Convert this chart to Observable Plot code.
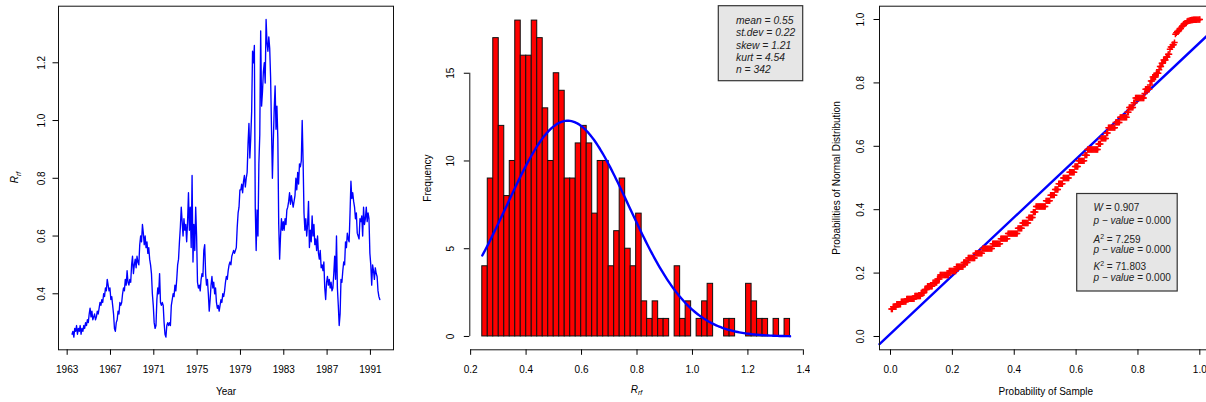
<!DOCTYPE html>
<html><head><meta charset="utf-8">
<script src="https://cdn.jsdelivr.net/npm/d3@7"></script>
<script src="https://cdn.jsdelivr.net/npm/@observablehq/plot@0.6"></script>
<style>
html,body{margin:0;padding:0;background:#fff;overflow:hidden;}
#wrap{position:relative;width:1206px;height:402px;overflow:hidden;background:#fff;}
.panel{position:absolute;top:0;height:402px;overflow:hidden;}
.panel svg{max-width:none !important;display:block;}
</style></head><body><div id="wrap"></div>
<script>
// ---------- DATA ----------
const startTime = 1963.45;           // first monthly observation
const rateMonthly = [
  0.26,0.27,0.25,0.28,0.27,0.29,0.26,
  0.28,0.27,0.29,0.26,0.28,0.27,0.29,0.28,0.30,0.29,0.31,0.30,
  0.33,0.35,0.32,0.34,0.31,0.32,0.33,0.31,0.32,0.34,0.33,0.35,
  0.37,0.36,0.38,0.37,0.40,0.39,0.42,0.41,0.45,0.43,0.41,0.42,
  0.38,0.39,0.36,0.33,0.28,0.27,0.30,0.31,0.34,0.33,0.37,0.36,
  0.37,0.40,0.42,0.41,0.45,0.43,0.48,0.44,0.43,0.45,0.44,0.50,
  0.53,0.47,0.50,0.52,0.49,0.53,0.51,0.50,0.57,0.60,0.58,0.64,
  0.61,0.57,0.60,0.56,0.58,0.54,0.56,0.52,0.50,0.47,0.40,0.36,
  0.30,0.28,0.29,0.38,0.42,0.40,0.47,0.37,0.36,0.37,0.36,0.30,
  0.26,0.25,0.29,0.30,0.29,0.30,0.29,0.36,0.38,0.40,0.39,0.43,
  0.41,0.45,0.50,0.52,0.58,0.63,0.70,0.65,0.60,0.66,0.62,0.64,
  0.58,0.65,0.75,0.62,0.70,0.56,0.81,0.51,0.64,0.55,0.70,0.60,
  0.44,0.42,0.43,0.41,0.45,0.47,0.46,0.55,0.57,0.47,0.43,0.45,
  0.40,0.34,0.38,0.43,0.46,0.42,0.44,0.40,0.42,0.37,0.35,0.36,
  0.34,0.36,0.38,0.37,0.40,0.39,0.41,0.44,0.46,0.45,0.48,0.50,
  0.51,0.50,0.53,0.54,0.55,0.54,0.55,0.56,0.63,0.68,0.70,0.76,
  0.76,0.78,0.75,0.79,0.81,0.77,0.80,0.82,0.92,0.99,0.87,0.94,
  1.03,1.24,1.20,1.26,0.70,0.55,0.69,0.60,0.85,0.95,1.31,1.05,
  1.10,1.17,1.20,1.13,1.35,1.27,1.24,1.29,1.25,1.15,0.97,0.80,
  0.93,1.04,1.12,0.97,1.05,0.94,0.64,0.52,0.60,0.66,0.62,0.65,
  0.62,0.66,0.64,0.69,0.70,0.72,0.75,0.71,0.74,0.72,0.70,0.72,
  0.74,0.80,0.76,0.82,0.78,0.85,0.84,0.86,1.00,0.86,0.68,0.62,
  0.66,0.60,0.64,0.72,0.56,0.62,0.58,0.67,0.60,0.64,0.57,0.59,
  0.55,0.60,0.54,0.52,0.55,0.49,0.50,0.48,0.51,0.42,0.38,0.44,
  0.46,0.43,0.45,0.42,0.44,0.41,0.42,0.47,0.53,0.45,0.60,0.42,
  0.36,0.29,0.33,0.45,0.44,0.48,0.51,0.50,0.58,0.56,0.61,0.59,
  0.58,0.68,0.79,0.73,0.75,0.72,0.70,0.66,0.68,0.61,0.60,0.59,
  0.66,0.65,0.67,0.60,0.70,0.64,0.66,0.70,0.65,0.68,0.66,0.54,
  0.50,0.43,0.50,0.48,0.45,0.49,0.47,0.46,0.41,0.39,0.38
];
const yearTicks = [1963, 1967, 1971, 1975, 1979, 1983, 1987, 1991];
const rateTicks = [0.4, 0.6, 0.8, 1.0, 1.2];

const histCounts = [4,9,17,12,8,10,18,16,16,18,17,13,10,15,14,9,9,11,12,11,7,10,10,4,6,9,5,4,7,2,
                    1,2,1,1,0,4,1,2,0,1,2,3,0,0,1,1,0,0,3,2,1,1,0,1,0,1];
const histRange = [0.242, 1.352];
const freqTicks = [0, 5, 10, 15];
const rTicks = [0.2, 0.4, 0.6, 0.8, 1.0, 1.2, 1.4];
const statNames = ["mean", "st.dev", "skew", "kurt", "n"];
const statValues = [0.55, 0.22, 1.21, 4.54, 342];

const ppTicks = [0, 0.2, 0.4, 0.6, 0.8, 1.0];
const ppLineX = [-0.0356, 1.04];
const ppLineY = [-0.024, 0.964];
const testNames = ["W", "A", "K"];
const testSquared = [false, true, true];
const testStats = ["0.907", "7.259", "71.803"];
const testPValues = ["0.000", "0.000", "0.000"];

// ---------- HELPERS ----------
const FONT = "'Liberation Sans', Arial, Helvetica, sans-serif";
const baseStyle = {fontFamily: FONT, fontSize: "10px", background: "white", overflow: "visible", maxWidth: "none"};
const wrap = document.getElementById("wrap");
function addPanel(left, width, chart) {
  const div = document.createElement("div");
  div.className = "panel";
  div.style.left = left + "px";
  div.style.width = width + "px";
  div.appendChild(chart);
  wrap.appendChild(div);
  return d3.select(chart.tagName.toLowerCase() === "svg" ? chart : chart.querySelector("svg"));
}
function erf(x) {
  const s = Math.sign(x); x = Math.abs(x);
  const t = 1 / (1 + 0.3275911 * x);
  const y = 1 - (((((1.061405429 * t - 1.453152027) * t) + 1.421413741) * t - 0.284496736) * t + 0.254829592) * t * Math.exp(-x * x);
  return s * y;
}
const normCdf = z => 0.5 * (1 + erf(z / Math.SQRT2));
const normPdf = z => Math.exp(-z * z / 2) / Math.sqrt(2 * Math.PI);
const mean = statValues[0], sd = statValues[1], nObs = statValues[4];
const binW = (histRange[1] - histRange[0]) / histCounts.length;

const TOP = 5.7, BOTTOM = 52.7, H = 402;

// ---------- PANEL 1: time series ----------
{
  const ml = 58, mr = 17, W = 410;
  const chart = Plot.plot({
    width: W, height: H, marginLeft: ml, marginRight: mr, marginTop: TOP, marginBottom: BOTTOM,
    x: {domain: [1962.2, 1993.13], label: null},
    y: {domain: [0.206, 1.396], label: null},
    style: baseStyle,
    marks: [
      Plot.frame({stroke: "#111", strokeWidth: 1}),
      Plot.line(rateMonthly, {x: (d, i) => startTime + i / 12, y: d => d, stroke: "#0000ff", strokeWidth: 1.35}),
      Plot.axisX(yearTicks, {tickSize: 5.5, tickPadding: 11, tickFormat: d => String(d), fontSize: 10, label: null}),
      Plot.axisY(rateTicks, {tickSize: 5.5, tickFormat: () => "", label: null}),
      Plot.text(rateTicks, {y: d => d, text: d => d.toFixed(1), frameAnchor: "left", dx: -16.8, rotate: -90, textAnchor: "middle", lineAnchor: "middle", fontSize: 10}),
      Plot.text(["Year"], {frameAnchor: "bottom", dy: 42, lineAnchor: "middle", fontSize: 10})
    ]
  });
  const svg = addPanel(0, W, chart);
  const t = svg.append("text").attr("transform", `translate(${ml - 43},${(TOP + H - BOTTOM) / 2}) rotate(-90)`)
    .attr("text-anchor", "middle").attr("font-family", FONT).attr("font-size", 10).attr("fill", "black").attr("dy", "0.32em");
  t.append("tspan").attr("font-style", "italic").text("R");
  t.append("tspan").attr("font-style", "italic").attr("font-size", 7).attr("dy", 2.5).text("rf");
}

// ---------- PANEL 2: histogram ----------
{
  const left = 410, W = 400, ml = 59.3, mr = 6.3;
  const xDom = [0.197, 1.403], yDom = [-0.76, 18.82];
  const bins = histCounts.map((c, i) => ({x1: histRange[0] + i * binW, x2: histRange[0] + (i + 1) * binW, c}));
  const curve = d3.range(0, 201).map(k => {
    const x = histRange[0] + k * (histRange[1] - histRange[0]) / 200;
    return {x, y: nObs * binW * normPdf((x - mean) / sd) / sd};
  });
  const chart = Plot.plot({
    width: W, height: H, marginLeft: ml, marginRight: mr, marginTop: TOP, marginBottom: BOTTOM,
    x: {domain: xDom, label: null},
    y: {domain: yDom, label: null},
    style: baseStyle,
    marks: [
      Plot.rect(bins, {x1: "x1", x2: "x2", y1: () => 0, y2: "c", fill: "#ff0000", stroke: "#111", strokeWidth: 1}),
      Plot.line(curve, {x: "x", y: "y", stroke: "#0000ff", strokeWidth: 2.4}),
      Plot.ruleX([xDom[0]], {y1: freqTicks[0], y2: freqTicks[freqTicks.length - 1], stroke: "#111"}),
      Plot.ruleY([yDom[0]], {x1: rTicks[0], x2: rTicks[rTicks.length - 1], stroke: "#111"}),
      Plot.axisX(rTicks, {tickSize: 5.5, tickPadding: 11, tickFormat: d => d.toFixed(1), fontSize: 10, label: null}),
      Plot.axisY(freqTicks, {tickSize: 5.5, tickFormat: () => "", label: null}),
      Plot.text(freqTicks, {y: d => d, text: d => String(d), frameAnchor: "left", dx: -19.3, rotate: -90, textAnchor: "middle", lineAnchor: "middle", fontSize: 10}),
      Plot.text(["Frequency"], {frameAnchor: "left", dx: -42.3, rotate: -90, textAnchor: "middle", lineAnchor: "middle", fontSize: 10})
    ]
  });
  const svg = addPanel(left, W, chart);
  const t = svg.append("text").attr("x", (ml + W - mr) / 2).attr("y", 392.5)
    .attr("text-anchor", "middle").attr("font-family", FONT).attr("font-size", 10).attr("fill", "black");
  t.append("tspan").attr("font-style", "italic").text("R");
  t.append("tspan").attr("font-style", "italic").attr("font-size", 7).attr("dy", 2.5).text("rf");
  // stats box
  const bx = 718.3 - left, by = TOP, bw = 84.4, bh = 75;
  svg.append("rect").attr("x", bx).attr("y", by).attr("width", bw).attr("height", bh)
    .attr("fill", "#e6e6e6").attr("stroke", "#333").attr("stroke-width", 1.2);
  const g = svg.append("g").attr("font-family", FONT).attr("font-size", 10.3).attr("font-style", "italic")
    .attr("fill", "#222").attr("text-anchor", "start");
  statNames.forEach((nm, i) => {
    const v = nm === "n" ? String(statValues[i]) : statValues[i].toFixed(2);
    g.append("text").attr("x", 736 - left).attr("y", 24 + i * 12.35).attr("text-anchor", "start").text(`${nm} = ${v}`);
  });
}

// ---------- PANEL 3: P-P plot ----------
{
  const left = 810, W = 402, ml = 69, mr = 0.3;
  const xDom = [-0.0356, 1.04], yDom = [-0.042, 1.042];
  // sample probabilities vs. normal probabilities of the sorted monthly observations
  const sorted = [...rateMonthly].sort(d3.ascending);
  const pp = sorted.map((v, i) => ({x: (i + 1) / sorted.length, y: normCdf((v - mean) / sd)}));
  const line = ppLineX.map((x, i) => ({x, y: ppLineY[i]}));
  const chart = Plot.plot({
    width: W, height: H, marginLeft: ml, marginRight: mr, marginTop: TOP, marginBottom: BOTTOM,
    x: {domain: xDom, label: null},
    y: {domain: yDom, label: null},
    style: baseStyle,
    marks: [
      Plot.line(line, {x: "x", y: "y", stroke: "#0000ff", strokeWidth: 2.4}),
      Plot.dot(pp, {x: "x", y: "y", symbol: "plus", stroke: "#ff0000", r: 2.2, strokeWidth: 1.5}),
      Plot.frame({stroke: "#111", strokeWidth: 1}),
      Plot.axisX(ppTicks, {tickSize: 5.5, tickPadding: 11, tickFormat: d => d.toFixed(1), fontSize: 10, label: null}),
      Plot.axisY(ppTicks, {tickSize: 5.5, tickFormat: () => "", label: null}),
      Plot.text(ppTicks, {y: d => d, text: d => d.toFixed(1), frameAnchor: "left", dx: -19, rotate: -90, textAnchor: "middle", lineAnchor: "middle", fontSize: 10}),
      Plot.text(["Probabilities of Normal Distribution"], {frameAnchor: "left", dx: -43, rotate: -90, textAnchor: "middle", lineAnchor: "middle", fontSize: 10}),
      Plot.text(["Probability of Sample"], {frameAnchor: "bottom", dy: 42, lineAnchor: "middle", fontSize: 10})
    ]
  });
  const svg = addPanel(left, 396, chart);
  const bx = 1076.7 - left, by = 193.5, bw = 100.5, bh = 97.5;
  svg.append("rect").attr("x", bx).attr("y", by).attr("width", bw).attr("height", bh)
    .attr("fill", "#e6e6e6").attr("stroke", "#333").attr("stroke-width", 1.2);
  const g = svg.append("g").attr("font-family", FONT).attr("font-size", 10).attr("fill", "#222").attr("text-anchor", "start");
  const tx = 1093.5 - left;
  const statY = [211, 242.5, 269.5], pY = [224, 253, 280.5];
  testNames.forEach((nm, i) => {
    const t = g.append("text").attr("x", tx).attr("y", statY[i]).attr("text-anchor", "start");
    t.append("tspan").attr("font-style", "italic").text(nm);
    if (testSquared[i]) t.append("tspan").attr("font-size", 7).attr("dy", -4).text("2");
    t.append("tspan").attr("dy", testSquared[i] ? 4 : 0).text(` = ${testStats[i]}`);
    const p = g.append("text").attr("x", tx).attr("y", pY[i]).attr("text-anchor", "start");
    p.append("tspan").attr("font-style", "italic").text("p − value");
    p.append("tspan").text(` = ${testPValues[i]}`);
  });
}
</script></body></html>
